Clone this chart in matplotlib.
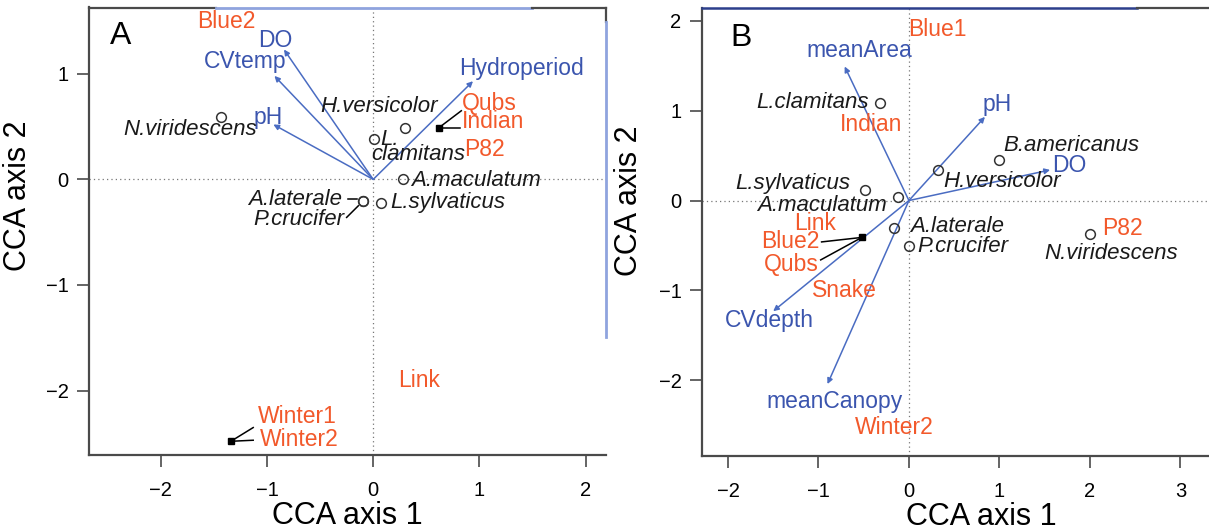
import matplotlib
matplotlib.use("Agg")
import matplotlib.pyplot as plt
from matplotlib.lines import Line2D

plt.rcParams["font.family"] = ["Liberation Sans", "DejaVu Sans"]

ORANGE = "#F2592B"
BLUE_TXT = "#3B55AE"
BLUE_ARR = "#4A6CC2"
AXCOL = "#4a4a4a"

# ---------------- panel A data ----------------
envA_names = ["DO", "CVtemp", "pH", "Hydroperiod"]
envA_x = [-0.84, -0.93, -0.94, 0.94]
envA_y = [1.23, 0.98, 0.52, 0.93]
envA_lx = [-0.92, -1.21, -0.99, 1.40]
envA_ly = [1.32, 1.12, 0.59, 1.05]

siteA_names = ["Blue2", "Qubs", "Indian", "P82", "Link", "Winter1", "Winter2"]
siteA_lx = [-1.38, 1.09, 1.13, 1.05, 0.43, -0.71, -0.70]
siteA_ly = [1.50, 0.72, 0.55, 0.28, -1.90, -2.25, -2.46]
siteA_sq_x = [0.62, -1.34]
siteA_sq_y = [0.49, -2.48]
# leader lines (from, to)
leadA = [((0.62, 0.49), (0.83, 0.65)), ((0.62, 0.49), (0.82, 0.49)),
         ((-1.34, -2.48), (-1.13, -2.35)), ((-1.34, -2.48), (-1.13, -2.47)),
         ((-0.24, -0.19), (-0.15, -0.19)), ((-0.25, -0.36), (-0.14, -0.25))]

sppA_x = [-1.43, 0.30, 0.01, 0.28, 0.07, -0.10, -0.10]
sppA_y = [0.59, 0.49, 0.38, 0.00, -0.22, -0.20, -0.20]
sppA_labels = ["N.viridescens", "H.versicolor", "L.", "clamitans",
               "A.maculatum", "L.sylvaticus", "A.laterale", "P.crucifer"]
sppA_lx = [-1.72, 0.06, 0.15, 0.42, 0.965, 0.70, -0.74, -0.705]
sppA_ly = [0.47, 0.69, 0.38, 0.24, -0.01, -0.215, -0.19, -0.375]

# ---------------- panel B data ----------------
envB_names = ["meanArea", "pH", "DO", "CVdepth", "meanCanopy"]
envB_x = [-0.71, 0.84, 1.56, -1.50, -0.90]
envB_y = [1.49, 0.93, 0.34, -1.23, -2.04]
envB_lx = [-0.55, 0.98, 1.77, -1.54, -0.82]
envB_ly = [1.67, 1.07, 0.39, -1.33, -2.23]

siteB_names = ["Blue1", "Indian", "Link", "Blue2", "Qubs", "Snake", "P82", "Winter2"]
siteB_lx = [0.31, -0.42, -1.04, -1.31, -1.30, -0.71, 2.36, -0.165]
siteB_ly = [1.90, 0.85, -0.26, -0.46, -0.71, -1.00, -0.315, -2.52]
siteB_sq_x = [-0.52]
siteB_sq_y = [-0.41]
leadB = [((-0.52, -0.41), (-0.965, -0.46)), ((-0.52, -0.41), (-0.975, -0.66))]

sppB_labels = ["L.clamitans", "L.sylvaticus", "A.maculatum", "H.versicolor",
               "B.americanus", "A.laterale", "P.crucifer", "N.viridescens"]
sppB_x = [-0.32, -0.48, -0.12, 0.32, 0.99, -0.17, 0.00, 2.00]
sppB_y = [1.08, 0.12, 0.04, 0.34, 0.45, -0.30, -0.51, -0.37]
sppB_lx = [-1.07, -1.28, -0.96, 1.03, 1.79, 0.53, 0.60, 2.23]
sppB_ly = [1.09, 0.19, -0.06, 0.21, 0.61, -0.29, -0.51, -0.59]


def biplot(ax, env, ex, ey, elx, ely, sites, slx, sly, sqx, sqy, leads,
           spx, spy, splab, splx, sply):
    ax.axhline(0, color="#777777", lw=0.9, ls=(0, (1, 2.5)), zorder=1)
    ax.axvline(0, color="#777777", lw=0.9, ls=(0, (1, 2.5)), zorder=1)
    for x, y in zip(ex, ey):
        ax.annotate("", xy=(x, y), xytext=(0, 0),
                    arrowprops=dict(arrowstyle="-|>", color=BLUE_ARR, lw=1.1,
                                    mutation_scale=8, shrinkA=0, shrinkB=0))
    for t, x, y in zip(env, elx, ely):
        ax.text(x, y, t, color=BLUE_TXT, fontsize=16.5, ha="center", va="center")
    for t, x, y in zip(sites, slx, sly):
        ax.text(x, y, t, color=ORANGE, fontsize=16.5, ha="center", va="center")
    ax.plot(sqx, sqy, "s", color="black", ms=4.5, zorder=4)
    for (x0, y0), (x1, y1) in leads:
        ax.plot([x0, x1], [y0, y1], color="black", lw=1.1, zorder=3)
    ax.plot(spx, spy, "o", mfc="none", mec="#333333", ms=7, mew=1.1, zorder=4)
    for t, x, y in zip(splab, splx, sply):
        ax.text(x, y, t, color="#1a1a1a", fontsize=16, style="italic",
                ha="center", va="center")

    for s in ["top", "right"]:
        ax.spines[s].set_visible(False)
    for s in ["left", "bottom"]:
        ax.spines[s].set_color(AXCOL)
        ax.spines[s].set_linewidth(1.6)
    ax.tick_params(direction="out", length=8.5, width=1.2, color=AXCOL,
                   labelsize=14.5)
    ax.tick_params(axis="x", pad=10)
    ax.tick_params(axis="y", pad=6)
    ax.set_xlabel("CCA axis 1", fontsize=22, labelpad=1)
    ax.set_ylabel("CCA axis 2", fontsize=22)


fig = plt.figure(figsize=(12.09, 5.31), dpi=100)

axA = fig.add_axes([0.0733, 0.1431, 0.4277, 0.8432])
biplot(axA, envA_names, envA_x, envA_y, envA_lx, envA_ly,
       siteA_names, siteA_lx, siteA_ly, siteA_sq_x, siteA_sq_y, leadA,
       sppA_x, sppA_y, sppA_labels, sppA_lx, sppA_ly)
axA.set_xlim(-2.68, 2.19)
axA.set_ylim(-2.61, 1.63)
axA.set_xticks([-2, -1, 0, 1, 2])
axA.set_yticks([-2, -1, 0, 1])
axA.yaxis.set_label_coords(-0.1075, 0.58)
axA.text(-2.38, 1.36, "A", fontsize=23, ha="center", va="center")

axB = fig.add_axes([0.5804, 0.1412, 0.4618, 0.8437])
biplot(axB, envB_names, envB_x, envB_y, envB_lx, envB_ly,
       siteB_names, siteB_lx, siteB_ly, siteB_sq_x, siteB_sq_y, leadB,
       sppB_x, sppB_y, sppB_labels, sppB_lx, sppB_ly)
axB.set_xlim(-2.29, 3.88)
axB.set_ylim(-2.84, 2.14)
axB.set_xticks([-2, -1, 0, 1, 2, 3])
axB.set_yticks([-2, -1, 0, 1, 2])
axB.yaxis.set_label_coords(-0.103, 0.57)
axB.text(-1.86, 1.81, "B", fontsize=23, ha="center", va="center")

# frame pieces that show in the scanned figure (top edges, right edge of A)
W, H = 1209.0, 531.0
def seg(x0, y0, x1, y1, c, lw=1.6):
    fig.add_artist(Line2D([x0 / W, x1 / W], [1 - y0 / H, 1 - y1 / H],
                          transform=fig.transFigure, color=c, lw=lw))

seg(88.6, 7.5, 215.6, 7.5, AXCOL)
seg(215.6, 7.5, 532, 7.5, "#8FA4DE", 2.0)
seg(532, 7.5, 606, 7.5, AXCOL)
seg(606, 7.5, 606, 22, AXCOL)
seg(606, 22, 606, 337, "#8FA4DE", 2.0)
seg(701.7, 8, 1137, 8, "#2C3F8C", 1.8)
seg(1137, 8, 1209, 8, AXCOL)

fig.savefig("out.png", dpi=100)
